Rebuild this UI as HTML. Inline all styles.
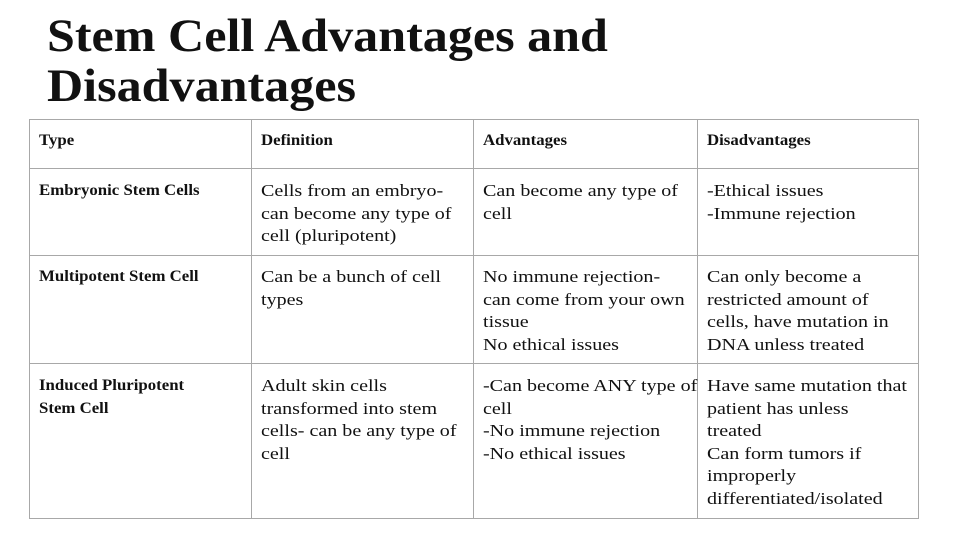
<!DOCTYPE html>
<html><head><meta charset="utf-8"><style>
body{margin:0;width:960px;height:540px;background:#fff;position:relative;overflow:hidden;font-family:"Liberation Serif",serif;color:#111}
.t{position:absolute;left:47px;font-weight:bold;font-size:47px;line-height:50px;white-space:nowrap;transform:scaleX(1.066);transform-origin:left top}
.l{position:absolute;background:#a8a8a8}
.c{position:absolute;font-size:17px;line-height:22.5px;white-space:nowrap;transform:scaleX(1.18);transform-origin:left top}
.b{font-weight:bold;font-size:16px;transform:scaleX(1.05)}
</style></head><body>
<div class="t" style="top:11px">Stem Cell Advantages and<br>Disadvantages</div>
<div>
<div class="l" style="left:29px;top:119px;width:890px;height:1px"></div>
<div class="l" style="left:29px;top:168px;width:890px;height:1px"></div>
<div class="l" style="left:29px;top:255px;width:890px;height:1px"></div>
<div class="l" style="left:29px;top:363px;width:890px;height:1px"></div>
<div class="l" style="left:29px;top:518px;width:890px;height:1px"></div>
<div class="l" style="left:29px;top:119px;width:1px;height:400px"></div>
<div class="l" style="left:251px;top:119px;width:1px;height:400px"></div>
<div class="l" style="left:473px;top:119px;width:1px;height:400px"></div>
<div class="l" style="left:697px;top:119px;width:1px;height:400px"></div>
<div class="l" style="left:918px;top:119px;width:1px;height:400px"></div>

<div class="c b" style="left:39px;top:130px">Type</div>
<div class="c b" style="left:261px;top:130px">Definition</div>
<div class="c b" style="left:483px;top:130px">Advantages</div>
<div class="c b" style="left:707px;top:130px">Disadvantages</div>

<div class="c b" style="left:39px;top:180px">Embryonic Stem Cells</div>
<div class="c" style="left:261px;top:180px">Cells from an embryo-<br>can become any type of<br>cell (pluripotent)</div>
<div class="c" style="left:483px;top:180px">Can become any type of<br>cell</div>
<div class="c" style="left:707px;top:180px">-Ethical issues<br>-Immune rejection</div>

<div class="c b" style="left:39px;top:266px">Multipotent Stem Cell</div>
<div class="c" style="left:261px;top:266px">Can be a bunch of cell<br>types</div>
<div class="c" style="left:483px;top:266px">No immune rejection-<br>can come from your own<br>tissue<br>No ethical issues</div>
<div class="c" style="left:707px;top:266px">Can only become a<br>restricted amount of<br>cells, have mutation in<br>DNA unless treated</div>

<div class="c b" style="left:39px;top:375px">Induced Pluripotent<br>Stem Cell</div>
<div class="c" style="left:261px;top:375px">Adult skin cells<br>transformed into stem<br>cells- can be any type of<br>cell</div>
<div class="c" style="left:483px;top:375px">-Can become ANY type of<br>cell<br>-No immune rejection<br>-No ethical issues</div>
<div class="c" style="left:707px;top:375px">Have same mutation that<br>patient has unless<br>treated<br>Can form tumors if<br>improperly<br>differentiated/isolated</div>
</div>
</body></html>
